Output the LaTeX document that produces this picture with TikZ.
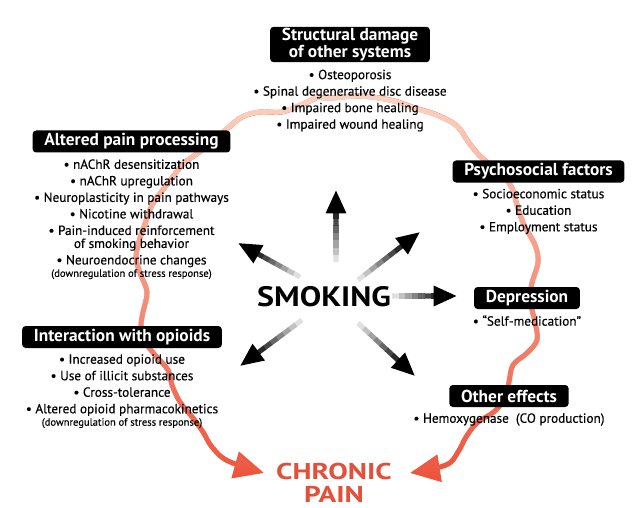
\documentclass[tikz,border=0pt]{standalone}
\usepackage{fontspec}
\setmainfont{PT Sans}
\newfontface\itemfont{PT Sans}[FakeBold=0.35]
\usepackage{graphicx}
\usetikzlibrary{positioning,calc,arrows.meta,fadings}
\definecolor{painred}{RGB}{238,84,60}
\definecolor{palepeach}{RGB}{251,212,194}
\tikzfading[name=fade down, top color=transparent!0, middle color=transparent!55, bottom color=transparent!100]
\begin{document}
\begin{tikzpicture}[x=0.03cm, y=-0.03cm,
    head/.style={fill=black, text=white, rounded corners=3pt, align=center,
      font=\fontsize{14.8}{13}\selectfont\bfseries, inner xsep=10pt, inner ysep=1pt, minimum height=0.66cm},
    items/.style={align=center, inner sep=0pt, font=\fontsize{11.3}{14.1}\selectfont\itemfont},
    wave/.style={line width=4.3pt, painred, -{Triangle[length=0.9cm, width=0.8cm]},
      postaction={draw, palepeach, path fading=fade down}},
    ray/.style={line width=4.3pt}]
  \useasboundingbox (0,0) rectangle (641,508);

  % the two paths down to chronic pain
  \coordinate (top) at (318,97);
  \coordinate (tipL) at (264,473);
  \coordinate (tipR) at (410,473);
  \draw[wave] plot[smooth, tension=0.6] coordinates {(top) (303,104) (282,112) (260,112) (242,117)
    (228,128) (212,142) (198,153) (183,164) (172,178) (162,191) (152,205) (146,221) (140,238)
    (136,257) (140,273) (147,292) (143,312) (141,326) (144,340) (155,355) (168,370) (172,385)
    (180,402) (193,418) (203,432) (212,447) (228,461) (tipL)};
  \draw[wave] plot[smooth, tension=0.6] coordinates {(top) (330,98) (360,96) (390,100) (415,108)
    (437,115) (457,126) (469,143) (482,158) (500,172) (512,188) (517,205) (524,225) (535,245)
    (538,262) (532,283) (530,300) (535,322) (537,340) (527,353) (513,365) (509,382) (505,397)
    (495,411) (477,423) (466,437) (458,452) (446,465) (tipR)};

  % headings and their lists
  \node[head, minimum height=1.05cm] (struct) at (350,44.5) {Structural damage\\of other systems};
  \node[items, below=6pt of struct] (structlist)
    {• Osteoporosis\\• Spinal degenerative disc disease\\• Impaired bone healing\\• Impaired wound healing};
  \node[head] (altered) at (131.5,141.5) {Altered pain processing};
  \node[items, below=5.5pt of altered] (alteredlist)
    {• nAChR desensitization\\• nAChR upregulation\\• Neuroplasticity in pain pathways\\
     • Nicotine withdrawal\\• Pain-induced reinforcement\\[-3pt]of smoking behavior\\
     • Neuroendocrine changes\\[-3.5pt]{\fontsize{9}{10}\selectfont(downregulation of stress response)}};
  \node[head] (psycho) at (538.5,171.5) {Psychosocial factors};
  \node[items, below=5pt of psycho] (psycholist)
    {• Socioeconomic status\\• Education\\• Employment status};
  \node[head] (depress) at (527,298) {Depression};
  \node[items, below=5pt of depress] (depresslist) {• “Self-medication”};
  \node[head] (opioids) at (122,337) {Interaction with opioids};
  \node[items, below=5pt of opioids] (opioidslist)
    {• Increased opioid use\\• Use of illicit substances\\• Cross-tolerance\\
     • Altered opioid pharmacokinetics\\[-3.5pt]{\fontsize{9}{10}\selectfont(downregulation of stress response)}};
  \node[head] (other) at (509,396) {Other effects};
  \node[items, below=5pt of other] (otherlist) {• Hemoxygenase\ \ (CO production)};

  % centre and target
  \node[font=\fontsize{24}{24}\selectfont\bfseries] (smoking) at (324,297) {\scalebox{1.14}[1]{SMOKING}};
  \node[font=\fontsize{19.5}{19.5}\selectfont\bfseries, text=painred!95!black, align=center] (pain) at (334,483)
    {\scalebox{1.28}[1]{CHRONIC}\\\scalebox{1.28}[1]{PAIN}};

  % rays out of smoking
  \coordinate (up-s) at (336,262);  \coordinate (up-t) at (336,190);
  \coordinate (ne-s) at (358,280);  \coordinate (ne-t) at (420,232);
  \coordinate (e-s) at (392,296);   \coordinate (e-t) at (457,296);
  \coordinate (se-s) at (358,323);  \coordinate (se-t) at (415,376);
  \coordinate (sw-s) at (302,320);  \coordinate (sw-t) at (240,366);
  \coordinate (nw-s) at (300,277);  \coordinate (nw-t) at (238,243);
  \foreach \from/\to in {up-s/up-t, ne-s/ne-t, e-s/e-t, se-s/se-t, sw-s/sw-t, nw-s/nw-t}{
    \foreach \k in {1,...,8}{
      \pgfmathtruncatemacro\lvl{min(100,\k*12)}
      \draw[ray, black!\lvl] ($(\from)!{(\k-1)/10}!(\to)$) -- ($(\from)!{\k/10+0.01}!(\to)$);
    }
    \draw[ray, -{Triangle[length=0.7cm, width=0.58cm]}] ($(\from)!0.79!(\to)$) -- (\to);
  }
\end{tikzpicture}
\end{document}
